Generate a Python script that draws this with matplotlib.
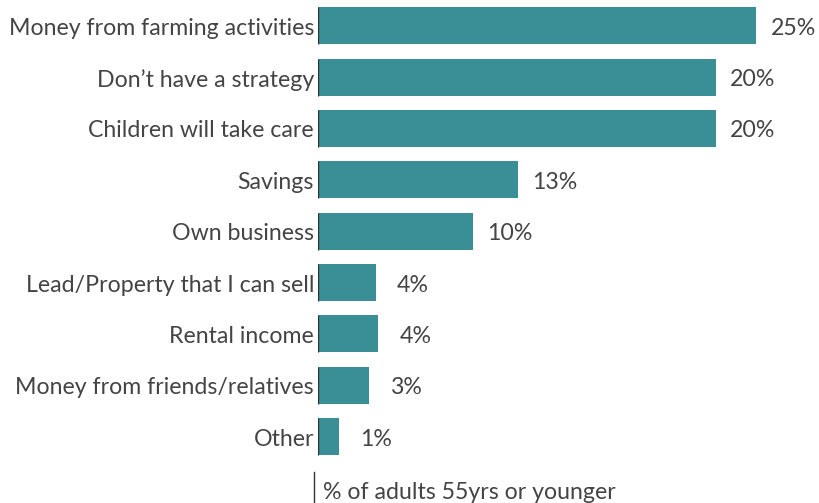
import matplotlib
matplotlib.use("Agg")
import matplotlib.pyplot as plt

categories = [
    "Money from farming activities",
    "Don\u2019t have a strategy",
    "Children will take care",
    "Savings",
    "Own business",
    "Lead/Property that I can sell",
    "Rental income",
    "Money from friends/relatives",
    "Other",
]
# bar lengths as drawn in the picture (percent)
values = [25.0, 22.7, 22.7, 11.4, 8.85, 3.3, 3.45, 2.9, 1.2]
# value labels as printed
value_labels = ["25%", "20%", "20%", "13%", "10%", "4%", "4%", "3%", "1%"]
axis_note = "% of adults 55yrs or younger"

fam = ["Lato", "DejaVu Sans"]
fw = "normal"
fs = 16.7
W, H = 819, 503
fig = plt.figure(figsize=(W / 100, H / 100), dpi=100)
ax = fig.add_axes([318 / W, (H - 462.2) / H, (W - 318) / W, 462.2 / H])

bar_color = "#3a8f97"
text_color = "#444444"
ypos = list(range(len(categories)))
bh = 0.72
ax.barh(ypos, values, height=bh, color=bar_color, edgecolor="none")
ax.vlines([0.02] * len(ypos), [y - bh / 2 for y in ypos], [y + bh / 2 for y in ypos],
          color="#333333", lw=1.0)
ax.set_xlim(0, (W - 318) / 17.52)
ax.set_ylim(len(categories) - 0.5, -0.5)
ax.axis("off")

px = 17.52  # pixels per percent
for y, v, lab, cat in zip(ypos, values, value_labels, categories):
    ax.text(v + 37 / px, y + 0.05, lab, ha="center", va="center", fontsize=fs,
            family=fam, fontweight=fw, color=text_color)
    ax.text(-4 / px, y + 0.05, cat, ha="right", va="center", fontsize=fs,
            family=fam, fontweight=fw, color=text_color)

fig.add_artist(plt.Line2D([314 / W, 314 / W], [0, (H - 472) / H],
                          color="#333333", lw=1.0))
fig.text(323 / W, 4 / H, axis_note, ha="left", va="baseline", fontsize=fs,
         family=fam, fontweight=fw, color=text_color)

fig.savefig("out.png", dpi=100)
